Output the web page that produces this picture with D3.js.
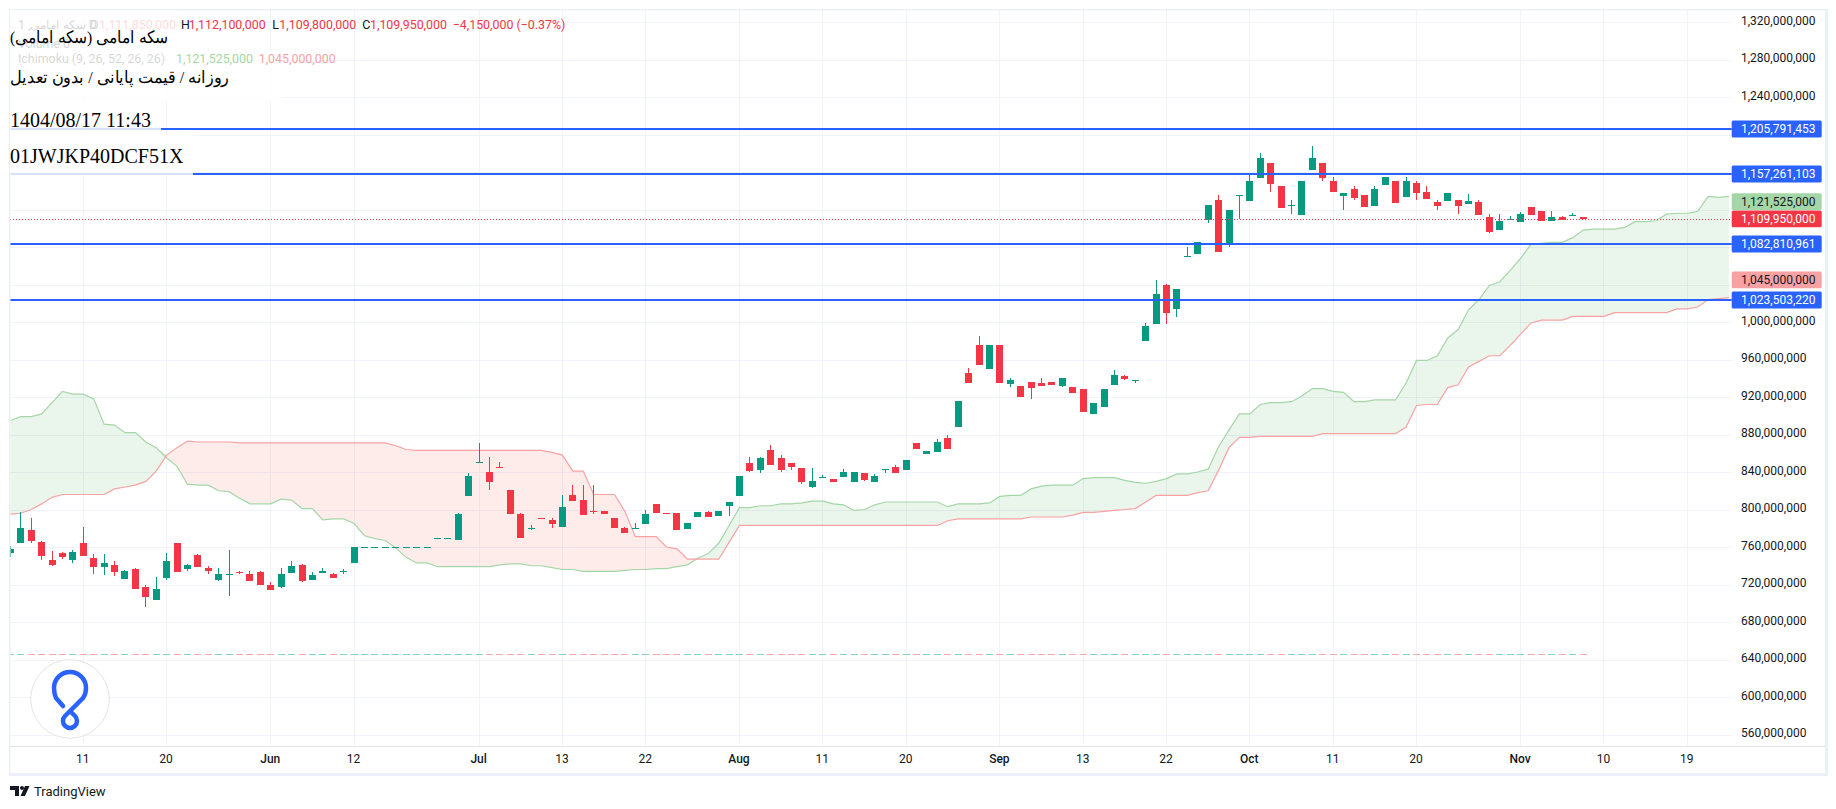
<!DOCTYPE html>
<html><head><meta charset="utf-8">
<script src="https://d3js.org/d3.v7.min.js"></script>
<style>
html,body{margin:0;padding:0;background:#fff;overflow:hidden}
svg{display:block}
.ax text{font-family:Roboto,sans-serif;font-size:12px;fill:#131722}
.lg{font-family:Roboto,sans-serif;font-size:12.4px}
.ov{font-family:"Liberation Serif",serif;fill:#000}
</style></head><body><svg id="c" width="1836" height="809"></svg>
<script>
// values in millions, bar index counted from the "11" tick
const firstBar=-7;
const opens=[754,764,778,765,746,754,746,
764,748,739,741,726,737,717,703,727,764,
737,751,738,725,730,733,731,733,719,717,
732,741,725,732,731,733,743,760,760,760,
760,760,760,760,770,770,767,814,850,840,
845,821,795,779,791,789,781,815,810,798,
798,791,780,779,785,806,796,796,779,792,
797,793,804,814,850,842,863,855,850,844,
824,834,833,835,829,839,829,842,845,842,
871,859,861,876,888,946,975,950,975,934,
932,936,935,936,932,931,929,902,909,933,
942,937,980,998,1040,1014,1069,1073,1109,1130,
1084,1134,1129,1154,1170,1145,1124,1114,1162,1170,
1150,1134,1142,1135,1124,1146,1150,1133,1148,1139,
1128,1129,1130,1126,1128,1112,1098,1109,1107,1123,
1118,1108,1112,1113,1111.85];
const closes=[758,780,766,750,741,749,755,
750,739,743,733,734,715,707,715,745,733,
741,739,734,731,731,732,724,720,714,731,
740,724,730,734,727,734,760,760,760,760,
760,760,760,760,770,770,795,836,851,829,
844,795,770,780,790,785,803,809,794,797,
795,780,775,780,795,796,795,778,786,797,
792,798,808,836,841,855,847,842,845,829,
830,835,829,840,840,831,836,843,839,853,
865,862,872,865,916,935,954,975,935,938,
920,930,932,933,940,924,904,914,929,943,
939,938,996,1030,1010,1035,1070,1085,1125,1075,
1120,1135,1150,1175,1147,1122,1125,1150,1175,1154,
1139,1138,1132,1123,1142,1155,1127,1150,1138,1131,
1124,1138,1124,1129,1114,1096,1108,1110,1115,1114,
1108,1112,1109,1114,1109.95];
const highs=[761,797,791,766,756,755,757,
781,753,753,745,735,738,719,728,754,764,
742,753,740,738,757,734,734,734,723,738,
745,742,733,738,732,737,760,760,760,760,
760,760,760,760,770,770,796,839,871,856,
851,821,796,783,791,791,815,826,826,826,
798,791,781,786,799,806,796,796,786,797,
798,798,808,836,856,856,869,858,850,844,
844,837,833,843,840,839,838,843,847,853,
871,862,875,880,916,951,985,975,975,940,
932,936,940,936,940,931,929,914,929,949,
943,938,999,1045,1041,1035,1080,1085,1125,1135,
1120,1135,1158,1180,1170,1145,1130,1150,1188,1170,
1155,1138,1145,1135,1145,1155,1150,1155,1150,1145,
1130,1138,1130,1137,1130,1115,1115,1113,1117,1123,
1118,1118,1113,1116,1112.1];
const lows=[749,764,764,746,740,747,743,
750,731,730,729,726,715,696,703,725,733,
734,739,731,724,708,731,724,720,714,716,
732,723,725,732,727,731,743,760,760,760,
760,760,760,760,770,770,767,814,850,821,
844,795,770,778,790,780,781,809,794,795,
795,780,775,779,785,796,795,778,779,792,
792,793,793,814,840,839,847,840,842,827,
823,834,829,835,829,830,829,839,839,842,
865,859,861,865,888,935,954,950,935,931,
920,918,932,933,931,924,904,902,909,933,
938,935,980,998,998,1005,1069,1073,1106,1075,
1080,1110,1129,1154,1139,1122,1115,1114,1162,1150,
1139,1120,1130,1123,1124,1146,1127,1133,1130,1131,
1120,1129,1115,1126,1114,1095,1098,1109,1107,1114,
1108,1108,1109,1113,1109.8];
const senkouA=[895,899,899,902,914,926,923,
923,918,891,890,882,882,872,866,855,846,
827,826,826,820,819,812,806,806,806,811,
810,801,801,789,790,790,785,772,769,767,
759,749,743,743,739,739,739,739,739,739,
741,742,742,740,740,738,736,736,734,734,
734,734,735,736,736,737,737,739,741,748,
753,764,783,802,802,804,804,806,806,807,
809,809,806,805,799,800,805,808,808,808,
808,808,808,803,806,806,806,807,814,815,
815,822,825,826,826,826,833,834,834,834,
831,829,828,830,833,838,838,840,843,867,
885,902,902,912,914,914,915,921,929,929,
926,925,915,915,917,917,917,935,959,959,
964,983,992,1013,1024,1039,1043,1055,1068,1083,
1084,1085,1085,1090,1098,1099,1099,1099,1101,1107,
1107,1108,1115,1116,1116,1118,1134,1133,1134];
const senkouB=[795,796,800,806,813,816,816,
816,816,816,822,824,826,830,841,858,866,
873,872,872,872,872,871,871,871,871,871,
871,871,871,871,871,871,871,871,871,871,
868,864,863,863,863,863,863,863,863,863,
863,863,863,863,863,861,858,841,841,816,
816,816,798,771,771,771,760,758,747,747,
747,747,765,783,783,783,783,783,783,783,
783,783,783,783,783,783,783,783,783,783,
783,783,783,788,790,790,790,790,790,790,
790,792,792,792,792,794,797,797,798,799,
800,801,808,815,815,815,815,818,820,842,
866,877,877,878,878,878,878,878,878,881,
881,881,881,881,881,881,881,888,911,912,
912,930,933,952,958,964,964,975,987,999,
1002,1002,1002,1006,1006,1006,1006,1010,1010,1010,
1010,1010,1010,1014,1014,1016,1024,1025,1026];
const yTicks=[560,600,640,680,720,760,800,840,880,920,960,1000,1040,1080,1120,1160,1200,1240,1280,1320];
const yHidden=[1040,1080,1120,1160,1200];
const xTickBars=[0,8,18,26,38,46,54,63,71,79,88,96,104,112,120,128,138,146,154];
const xTickLabels=["11","20","Jun","12","Jul","13","22","Aug","11","20","Sep","13","22","Oct","11","20","Nov","10","19"];
const monthLabels=["Jun","Jul","Aug","Sep","Oct","Nov"];
const levels=[1205791453,1157261103,1082810961,1023503220];
const lastClose=1109.95, cloudA=1121.525, cloudB=1045, flatLine=645.5;

const plot={l:10,r:1731.7,t:10,b:746.7};
const x=d3.scaleLinear().domain([0,154]).range([83.3,1687.3]);
const y=d3.scaleLinear().domain([547,1332.8]).range([plot.b,plot.t]);
const UP="#089981",DN="#F23645",BLUE="#2962FF",GRID="#f0f3fa",FRAME="#eceff6";
const fmt=v=>d3.format(",")(Math.round(v*1e6));
const lvY=d=>Math.floor(y(d/1e6)+.1);
const svg=d3.select("#c");
svg.append("defs").append("clipPath").attr("id","pc").append("rect")
  .attr("x",plot.l).attr("y",plot.t).attr("width",plot.r-plot.l).attr("height",plot.b-plot.t);

// grid
const gg=svg.append("g");
gg.selectAll("line.h").data(yTicks).join("line").attr("x1",plot.l).attr("x2",plot.r)
  .attr("y1",d=>Math.round(y(d))+.5).attr("y2",d=>Math.round(y(d))+.5).attr("stroke",GRID);
gg.selectAll("line.v").data(xTickBars).join("line").attr("y1",plot.t).attr("y2",plot.b)
  .attr("x1",d=>Math.floor(x(d))+.5).attr("x2",d=>Math.floor(x(d))+.5).attr("stroke",GRID);

// cloud
const cg=svg.append("g").attr("clip-path","url(#pc)");
const cl=senkouA.map((a,i)=>({i:i+firstBar,a,b:senkouB[i]}));
cg.append("path").attr("d",d3.area().x(d=>x(d.i)).y0(d=>y(d.b)).y1(d=>y(Math.max(d.a,d.b)))(cl)).attr("fill","rgba(67,160,71,.11)");
cg.append("path").attr("d",d3.area().x(d=>x(d.i)).y0(d=>y(d.a)).y1(d=>y(Math.max(d.a,d.b)))(cl)).attr("fill","rgba(244,67,54,.1)");
cg.append("path").attr("d",d3.line().x(d=>x(d.i)).y(d=>y(d.a))(cl)).attr("fill","none").attr("stroke","#A5D6A7").attr("stroke-width",1.2);
cg.append("path").attr("d",d3.line().x(d=>x(d.i)).y(d=>y(d.b))(cl)).attr("fill","none").attr("stroke","#FAA1A4").attr("stroke-width",1.2);

// candles
const bars=opens.map((o,i)=>({i:i+firstBar,o,c:closes[i],h:highs[i],l:lows[i]}));
const col=d=>d.c>=d.o?UP:DN;
const kg=svg.append("g").attr("clip-path","url(#pc)");
kg.selectAll("rect.fl").data(bars).join("rect").attr("x",d=>Math.floor(x(d.i))-3).attr("width",7)
  .attr("y",Math.round(y(flatLine))).attr("height",1).attr("fill",d=>d.c>=d.o?"#7fd3c0":"#f7a9a7");
kg.selectAll("rect.w").data(bars).join("rect").attr("x",d=>Math.floor(x(d.i))).attr("width",1)
  .attr("y",d=>Math.round(y(d.h))).attr("height",d=>Math.max(1,Math.round(y(d.l))-Math.round(y(d.h)))).attr("fill",col);
kg.selectAll("rect.b").data(bars).join("rect").attr("x",d=>Math.floor(x(d.i))-3).attr("width",7)
  .attr("y",d=>Math.round(y(Math.max(d.o,d.c))))
  .attr("height",d=>Math.max(1,Math.round(y(Math.min(d.o,d.c)))-Math.round(y(Math.max(d.o,d.c))))).attr("fill",col);

// close dotted line
svg.append("line").attr("x1",plot.l).attr("x2",plot.r).attr("y1",Math.round(y(lastClose))+.5).attr("y2",Math.round(y(lastClose))+.5)
  .attr("stroke",DN).attr("stroke-dasharray","1,2");
// horizontal levels
svg.selectAll("line.lv").data(levels).join("line").attr("x1",plot.l).attr("x2",plot.r)
  .attr("y1",lvY).attr("y2",lvY).attr("stroke",BLUE).attr("stroke-width",2);

// frame
const fr=svg.append("g");
[[9,9,1819,1.5],[9,9,1.5,767],[9,773,1819,3],[1825,9,3,767]].forEach(r=>fr.append("rect").attr("x",r[0]).attr("y",r[1]).attr("width",r[2]).attr("height",r[3]).attr("fill",FRAME));
fr.append("line").attr("x1",plot.l).attr("x2",1825).attr("y1",746.5).attr("y2",746.5).attr("stroke","#e0e3eb");

// axes
const ya=d3.axisRight(y).tickValues(yTicks.filter(t=>!yHidden.includes(t))).tickSize(0).tickPadding(0).tickFormat(fmt);
const yg=svg.append("g").attr("class","ax").attr("transform","translate(1741,-1.5)").call(ya);
yg.select(".domain").remove();
const xa=d3.axisBottom(x).tickValues(xTickBars).tickSize(0).tickPadding(0).tickFormat((d,i)=>xTickLabels[i]);
const xg=svg.append("g").attr("class","ax").attr("transform","translate(-1,754)").call(xa);
xg.select(".domain").remove();
xg.selectAll("text").style("font-weight",(d,i)=>monthLabels.includes(xTickLabels[i])?500:400);

// price labels
function tag(cy,txt,bg,fg){
  svg.append("rect").attr("x",1731.7).attr("y",cy-8.4).attr("width",90).attr("height",16.8).attr("rx",1.5).attr("fill",bg);
  svg.append("text").attr("class","lg").attr("x",1741).attr("y",cy).attr("dy",".36em").attr("fill",fg).text(txt).style("font-size","12px");
}
levels.forEach(v=>tag(lvY(v),d3.format(",")(v),BLUE,"#fff"));
tag(y(cloudB),fmt(cloudB),"#FAA1A4","#131722");
tag(Math.min(y(cloudA),y(lastClose)-17.4),fmt(cloudA),"#A5D6A7","#131722");
tag(y(lastClose),fmt(lastClose),DN,"#fff");

// legend
const leg=svg.append("g").attr("class","lg");
function lt(xp,yp,t,f){leg.append("text").attr("x",xp).attr("y",yp).attr("fill",f).text(t);}
lt(18,28.5,"1 ,سکه امامی  D","#131722");
lt(90,28.5,"O","#131722");lt(99,28.5,"1,111,850,000",DN);
lt(181,28.5,"H","#131722");lt(188.7,28.5,"1,112,100,000",DN);
lt(272.3,28.5,"L","#131722");lt(279.3,28.5,"1,109,800,000",DN);
lt(362.3,28.5,"C","#131722");lt(370,28.5,"1,109,950,000",DN);
lt(452.7,28.5,"−4,150,000 (−0.37%)",DN);
lt(18,48,"Volume  0","#131722");
lt(18,62.5,"Ichimoku (9, 26, 52, 26, 26)","#131722");

// white note boxes
const ov=svg.append("g");
[[10,10,167,40],[10,50,273,51],[10,101,151,34],[10,135,183,40]].forEach(r=>
  ov.append("rect").attr("x",r[0]).attr("y",r[1]).attr("width",r[2]).attr("height",r[3]).attr("fill","rgba(255,255,255,.82)"));
ov.append("text").attr("class","lg").attr("x",176).attr("y",62.5).attr("fill","#A5D6A7").style("font-size","12.4px").text("1,121,525,000");
ov.append("text").attr("class","lg").attr("x",258.7).attr("y",62.5).attr("fill","#FAA1A4").style("font-size","12.4px").text("1,045,000,000");
function nt(t,yp,s,rtl,w){const e=ov.append("text").attr("class","ov").attr("x",10).attr("y",yp).style("font-size",s+"px").text(t);
  if(rtl) e.attr("direction","rtl").attr("text-anchor","end").attr("textLength",w).attr("lengthAdjust","spacingAndGlyphs");}
nt("سکه امامی (سکه امامی)",43,17,true,158);
nt("روزانه / قیمت پایانی / بدون تعدیل",83,17,true,219);
nt("1404/08/17 11:43",127,20,false);
nt("01JWJKP40DCF51X",163,20,false);

// badge
const bd=svg.append("g");
bd.append("circle").attr("cx",70).attr("cy",699).attr("r",39.3).attr("fill","#fff").attr("stroke","#e4e4e4");
bd.append("path").attr("d","M63,706 L56,698 Q54,694 54,688 A16,16 0 0 1 86,688 Q86,694 83,698 L65,716 A7,7 0 1 0 75,716 L70,711")
  .attr("fill","none").attr("stroke",BLUE).attr("stroke-width",4.5).attr("stroke-linecap","round");

// footer
const ft=svg.append("g");
ft.append("path").attr("d","M10,786 H19 V796 H15 V790 H10 Z M25,786 H29.5 L25,796 H20.5 Z").attr("fill","#131722");
ft.append("circle").attr("cx",22).attr("cy",788).attr("r",2).attr("fill","#131722");
ft.append("text").attr("x",34).attr("y",796).attr("fill","#131722").attr("font-family","Roboto,sans-serif").attr("font-size",13).text("TradingView");
</script></body></html>
